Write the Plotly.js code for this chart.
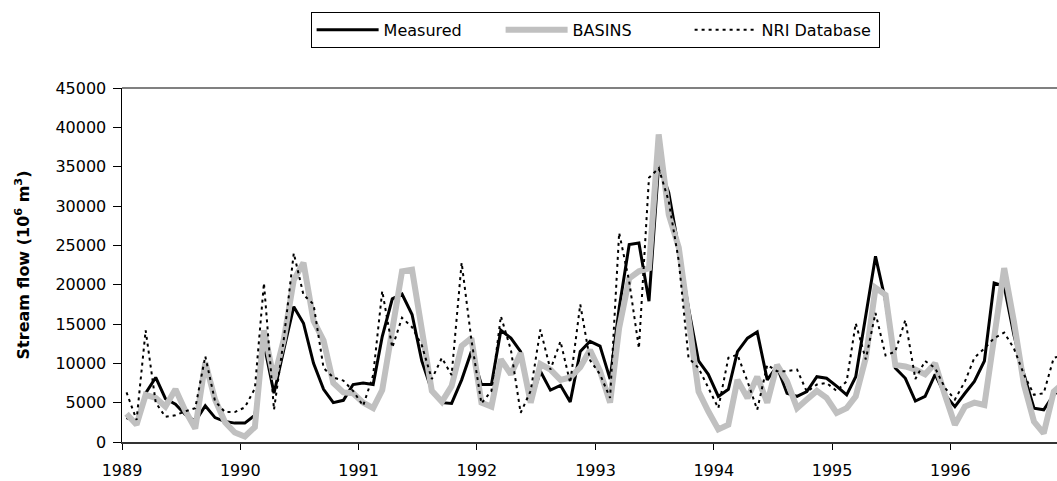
<!DOCTYPE html>
<html>
<head>
<meta charset="utf-8">
<script src="https://cdn.plot.ly/plotly-3.0.1.min.js"></script>
<style>
  html, body { margin: 0; padding: 0; background: #ffffff; }
  #chart { width: 1057px; height: 481px; }
</style>
</head>
<body>
<div id="chart"></div>
<script>
// Monthly stream flow, Jan 1989 - Dec 1996 (10^6 m^3)
var startYear = 1989;
var yearLabels = ['1989', '1990', '1991', '1992', '1993', '1994', '1995', '1996'];

var measured = [
  3100, 2600, 6200, 8200, 5500, 4800, 3500, 2600, 4600, 3100, 2600, 2400,
  2400, 3400, 12500, 6200, 11700, 17200, 15100, 10000, 6700, 5000, 5300, 7300,
  7500, 7300, 13400, 18200, 18800, 16200, 10300, 6500, 5000, 4900, 7900, 11500,
  7300, 7300, 14200, 13200, 11500, 5100, 9000, 6600, 7200, 5100, 11500, 12800,
  12200, 8000, 17000, 25100, 25300, 17900, 35300, 31700, 24500, 17000, 10300, 8600,
  5800, 6700, 11500, 13200, 14000, 7900, 9600, 6200, 5800, 6400, 8300, 8100,
  7100, 6000, 8300, 16200, 23600, 17900, 9400, 8100, 5200, 5800, 8600, 6000,
  4500, 6200, 7700, 10300, 20200, 19800, 13600, 8600, 4300, 4100, 6000, 7000
];

var basins = [
  3600, 2200, 6000, 5600, 4500, 6700, 4000, 1700, 10100, 5400, 2500, 1200,
  700, 1900, 14200, 8000, 13000, 20600, 22800, 15400, 12900, 7500, 6300, 6200,
  5000, 4300, 6600, 13800, 21700, 21900, 14500, 6500, 5100, 7100, 12200, 13200,
  5000, 4500, 10500, 8600, 11300, 5000, 9900, 9200, 7900, 8200, 9500, 11700,
  9000, 5000, 14500, 20800, 21700, 22100, 39100, 28900, 24700, 15300, 6400, 3900,
  1600, 2200, 7900, 5600, 8300, 5000, 9800, 7700, 4300, 5400, 6500, 5600,
  3700, 4300, 5800, 10700, 19600, 18700, 9800, 9600, 9200, 8600, 10000, 6000,
  2200, 4500, 5000, 4700, 12800, 22100, 15300, 7300, 2600, 1100, 6400, 7500
];

var nri = [
  6300, 2800, 14200, 5000, 3200, 3400, 3900, 4300, 10900, 5200, 3800, 3800,
  4400, 6800, 20200, 4100, 13000, 24000, 18700, 17500, 9400, 8200, 7800, 6500,
  4600, 8500, 19200, 12000, 15800, 14600, 12300, 8000, 10700, 8500, 22800, 13000,
  4900, 6500, 16000, 11700, 3700, 6500, 14300, 9200, 12800, 7500, 17500, 10400,
  8600, 5600, 26600, 20400, 11900, 33600, 34800, 30600, 23000, 10700, 9400, 6900,
  4300, 10700, 11100, 7700, 4100, 9800, 9000, 9000, 9200, 6400, 7300, 7500,
  6500, 7700, 15100, 10500, 16400, 11000, 11500, 15500, 8000, 10300, 9400, 6900,
  5400, 7700, 10700, 11900, 13200, 13900, 11900, 8600, 6000, 6200, 10700, 11000
];

// one date per monthly value (middle of each month)
function pad(n) { return (n < 10 ? '0' : '') + n; }
var months = measured.map(function (v, i) {
  var y = startYear + Math.floor(i / 12);
  var m = (i % 12) + 1;
  return y + '-' + pad(m) + '-15';
});
var yearTicks = yearLabels.map(function (y) { return y + '-01-01'; });

var FONT = 'DejaVu Sans, Arial, sans-serif';

var traces = [
  { x: months, y: measured, name: 'Measured', type: 'scatter', mode: 'lines',
    line: { color: '#000000', width: 3 } },
  { x: months, y: basins, name: 'BASINS', type: 'scatter', mode: 'lines',
    line: { color: '#c0c0c0', width: 6 } },
  { x: months, y: nri, name: 'NRI Database', type: 'scatter', mode: 'lines',
    line: { color: '#000000', width: 2, dash: '3px,4px' } }
];

var layout = {
  width: 1057, height: 481,
  margin: { l: 122, r: 0, t: 88, b: 39 },
  paper_bgcolor: '#ffffff', plot_bgcolor: '#ffffff',
  font: { family: FONT, size: 16, color: '#000000' },
  showlegend: true,
  legend: {
    orientation: 'h', x: 0.506, xanchor: 'center', y: 1.215, yanchor: 'top',
    bordercolor: '#000000', borderwidth: 1, bgcolor: '#ffffff',
    font: { family: FONT, size: 16, color: '#000000' },
    itemwidth: 62, entrywidth: 112, traceorder: 'normal'
  },
  xaxis: {
    type: 'date',
    range: ['1989-01-01', '1996-11-25'],
    tickmode: 'array', tickvals: yearTicks, ticktext: yearLabels,
    ticks: 'outside', ticklen: 6, tickwidth: 1, tickcolor: '#000000',
    ticklabelstandoff: 7,
    showline: true, linecolor: '#333333', linewidth: 2,
    showgrid: false, zeroline: false,
    tickfont: { family: FONT, size: 16, color: '#000000' },
    fixedrange: true
  },
  yaxis: {
    range: [0, 45000], dtick: 5000, tick0: 0, tickformat: 'd',
    ticks: 'outside', ticklen: 8, tickwidth: 1, tickcolor: '#000000',
    ticklabelstandoff: 3,
    showline: true, linecolor: '#000000', linewidth: 1.5,
    showgrid: false, zeroline: false,
    tickfont: { family: FONT, size: 16, color: '#000000' },
    title: {
      text: 'Stream flow (10<sup>6</sup> m<sup>3</sup>)',
      font: { family: FONT, size: 16, color: '#000000', weight: 'bold' },
      standoff: 22
    },
    fixedrange: true
  },
  shapes: [
    { type: 'line', xref: 'paper', yref: 'paper', x0: 0, x1: 1, y0: 1, y1: 1,
      line: { color: '#808080', width: 2 } }
  ]
};

Plotly.newPlot('chart', traces, layout, { displayModeBar: false, staticPlot: true });
</script>
</body>
</html>
